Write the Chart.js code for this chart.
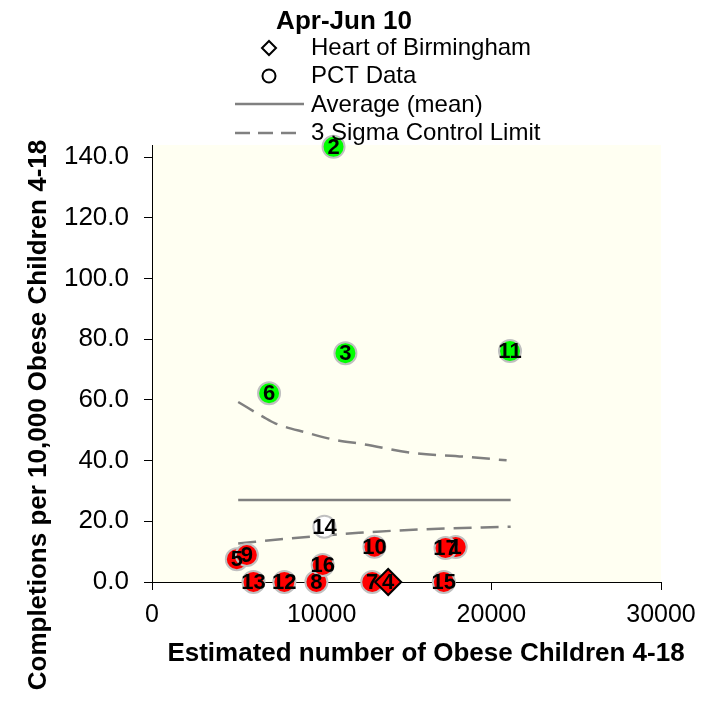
<!DOCTYPE html>
<html lang="en">
<head>
<meta charset="utf-8" />
<title>Apr-Jun 10</title>
<script src="https://cdn.jsdelivr.net/npm/chart.js@4.4.1/dist/chart.umd.min.js"></script>
<style>
  html, body { margin: 0; padding: 0; background: #fff; }
</style>
</head>
<body>
<canvas id="funnel" width="722" height="720"></canvas>

<script>
// PCT points: id, estimated obese children (x), completions per 10,000 (y)
var pctIds = [1, 2, 3, 5, 6, 7, 8, 9, 10, 11, 12, 13, 14, 15, 16, 17];
var pctX = [17900, 10700, 11400, 5000, 6900, 12980, 9690, 5590, 13110, 21100, 7800, 5980, 10160, 17200, 10060, 17300];
var pctY = [11.5, 143.4, 75.4, 7.5, 62.2, 0, 0, 8.9, 11.6, 76.1, 0, 0, 18.2, 0, 5.6, 11.2];
// where each PCT sits against the control limits
var pctBand = ["low", "high", "high", "low", "high", "low", "low", "low", "low", "high", "low", "low", "mid", "low", "low", "low"];

// Heart of Birmingham
var hobIds = [4];
var hobX = [13920];
var hobY = [0];

// mean and 3 sigma funnel
var avgX = [5080, 21140];
var avgY = [27.0, 27.0];
var upperX = [5080, 6560, 7260, 9130, 10810, 12480, 15240, 18380, 20900];
var upperY = [59.3, 54.4, 52.3, 49.2, 46.8, 45.4, 42.6, 41.3, 40.1];
var lowerX = [5080, 8250, 12190, 16120, 21140];
var lowerY = [12.7, 14.4, 16.2, 17.4, 18.2];

var xTicks = [0, 10000, 20000, 30000];
var yTicks = [0, 20, 40, 60, 80, 100, 120, 140];

var FONT = "Arial, 'Liberation Sans', sans-serif";
var bandFill = { high: "#00ff00", mid: "#ffffff", low: "#ff0000" };

function pairs(xs, ys) {
  return xs.map(function (x, i) { return { x: x, y: ys[i] }; });
}

// cream plot area
var plotBackground = {
  id: "plotBackground",
  beforeDraw: function (chart) {
    var a = chart.chartArea, ctx = chart.ctx;
    ctx.save();
    ctx.fillStyle = "#fffff2";
    ctx.fillRect(a.left, a.top, a.right - a.left, a.bottom - a.top);
    ctx.restore();
  }
};

// numbers written on the markers
var pointLabels = {
  id: "pointLabels",
  afterDatasetsDraw: function (chart) {
    var ctx = chart.ctx;
    ctx.save();
    ctx.font = "bold 22px " + FONT;
    ctx.fillStyle = "#000";
    ctx.textAlign = "center";
    ctx.textBaseline = "middle";
    [1, 0].forEach(function (di) {
      var ds = chart.data.datasets[di];
      chart.getDatasetMeta(di).data.forEach(function (pt, i) {
        ctx.fillText(String(ds.ids[i]), pt.x, pt.y + 1);
      });
    });
    ctx.restore();
  }
};

// title, stacked legend and axis titles
var chartText = {
  id: "chartText",
  afterDraw: function (chart) {
    var ctx = chart.ctx;
    ctx.save();
    ctx.fillStyle = "#000";
    ctx.textBaseline = "alphabetic";

    ctx.font = "bold 26px " + FONT;
    ctx.textAlign = "center";
    ctx.fillText("Apr-Jun 10", 344, 29);

    ctx.font = "24px " + FONT;
    ctx.textAlign = "left";
    var rows = [55, 83, 112, 140];
    for (var i = 0; i < 4; i++) {
      ctx.fillText(chart.data.datasets[i].label, 311, rows[i]);
    }

    // diamond
    ctx.lineWidth = 2;
    ctx.strokeStyle = "#000";
    ctx.fillStyle = "#fff";
    ctx.beginPath();
    ctx.moveTo(269, 41); ctx.lineTo(276, 48); ctx.lineTo(269, 55); ctx.lineTo(262, 48);
    ctx.closePath();
    ctx.fill(); ctx.stroke();
    // circle
    ctx.beginPath();
    ctx.arc(269, 76, 6.5, 0, Math.PI * 2);
    ctx.fill(); ctx.stroke();
    // lines
    ctx.strokeStyle = "#808080";
    ctx.lineWidth = 2.5;
    ctx.beginPath();
    ctx.moveTo(235, 104); ctx.lineTo(304, 104);
    ctx.stroke();
    ctx.setLineDash([15, 8]);
    ctx.beginPath();
    ctx.moveTo(235, 133); ctx.lineTo(304, 133);
    ctx.stroke();
    ctx.setLineDash([]);

    ctx.fillStyle = "#000";
    ctx.font = "bold 26px " + FONT;
    ctx.textAlign = "center";
    ctx.fillText("Estimated number of Obese Children 4-18", 426, 661);

    ctx.translate(46, 415);
    ctx.rotate(-Math.PI / 2);
    ctx.fillText("Completions per 10,000 Obese Children 4-18", 0, 0);
    ctx.restore();
  }
};

var ctx = document.getElementById("funnel").getContext("2d");
var funnel = new Chart(ctx, {
  type: "scatter",
  data: {
    datasets: [
      {
        label: "Heart of Birmingham",
        ids: hobIds,
        data: pairs(hobX, hobY),
        pointStyle: "rectRot",
        pointRadius: 13,
        pointHoverRadius: 13,
        backgroundColor: "#ff0000",
        borderColor: "#000",
        borderWidth: 2,
        clip: false
      },
      {
        label: "PCT Data",
        ids: pctIds,
        data: pairs(pctX, pctY),
        pointStyle: "circle",
        pointRadius: 11,
        pointHoverRadius: 11,
        backgroundColor: pctBand.map(function (b) { return bandFill[b]; }),
        borderColor: "#c0c0c0",
        borderWidth: 2,
        clip: false
      },
      {
        label: "Average (mean)",
        data: pairs(avgX, avgY),
        showLine: true,
        pointRadius: 0,
        borderColor: "#808080",
        borderWidth: 2.5
      },
      {
        label: "3 Sigma Control Limit",
        data: pairs(upperX, upperY),
        showLine: true,
        pointRadius: 0,
        borderColor: "#808080",
        borderWidth: 2.5,
        borderDash: [18, 9],
        cubicInterpolationMode: "monotone"
      },
      {
        label: "3 Sigma Control Limit (lower)",
        data: pairs(lowerX, lowerY),
        showLine: true,
        pointRadius: 0,
        borderColor: "#808080",
        borderWidth: 2.5,
        borderDash: [18, 9],
        cubicInterpolationMode: "monotone"
      }
    ]
  },
  options: {
    responsive: false,
    animation: false,
    events: [],
    layout: { padding: { top: 145, right: 61, left: 0, bottom: 0 } },
    plugins: {
      legend: { display: false },
      title: { display: false },
      tooltip: { enabled: false }
    },
    scales: {
      x: {
        type: "linear",
        min: 0,
        max: 30000,
        afterBuildTicks: function (s) { s.ticks = xTicks.map(function (v) { return { value: v }; }); },
        afterFit: function (s) { s.height = 138; },
        grid: { drawOnChartArea: false, drawTicks: true, tickLength: 8, color: "#000", lineWidth: 1 },
        border: { display: true, color: "#000", width: 1 },
        ticks: {
          color: "#000",
          font: { family: FONT, size: 25 },
          padding: 10,
          maxRotation: 0,
          callback: function (v) { return String(v); }
        }
      },
      y: {
        type: "linear",
        min: 0,
        max: 144,
        afterBuildTicks: function (s) { s.ticks = yTicks.map(function (v) { return { value: v }; }); },
        afterFit: function (s) { s.width = 152; },
        grid: { drawOnChartArea: false, drawTicks: true, tickLength: 8, color: "#000", lineWidth: 1 },
        border: { display: true, color: "#000", width: 1 },
        ticks: {
          color: "#000",
          font: { family: FONT, size: 26 },
          padding: 15,
          callback: function (v) { return Number(v).toFixed(1); }
        }
      }
    }
  },
  plugins: [plotBackground, pointLabels, chartText]
});
</script>
</body>
</html>
